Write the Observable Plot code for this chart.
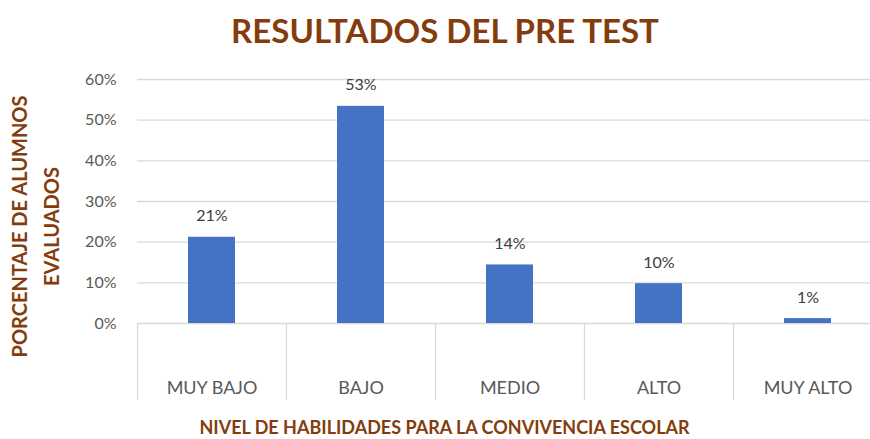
<!DOCTYPE html>
<html>
<head>
<meta charset="utf-8">
<script src="https://cdn.jsdelivr.net/npm/d3@7"></script>
<script src="https://cdn.jsdelivr.net/npm/@observablehq/plot@0.6"></script>
<style>
  html, body { margin: 0; padding: 0; background: #fff; overflow: hidden; }
  #wrap { width: 870px; height: 439px; overflow: hidden; position: relative; }
  #title { height: 60px; line-height: 60px; font-family: Lato, sans-serif; font-weight: 700;
           font-size: 33px; color: #843C0C; text-align: center; padding-left: 20px; box-sizing: border-box; }
  svg { display: block; }
</style>
</head>
<body>
<div id="wrap">
  <div id="title">RESULTADOS DEL PRE TEST</div>
  <div id="chart"></div>
</div>
<script>
const categories = ["MUY BAJO", "BAJO", "MEDIO", "ALTO", "MUY ALTO"];
const values = [0.212, 0.534, 0.144, 0.098, 0.012];
const yTicks = [0, 0.1, 0.2, 0.3, 0.4, 0.5, 0.6];
const yLabelLines = ["PORCENTAJE DE ALUMNOS", "EVALUADOS"];
const xLabel = "NIVEL DE HABILIDADES PARA LA CONVIVENCIA ESCOLAR";

const data = categories.map((c, i) => ({cat: c, value: values[i]}));
const fmt = d3.format(".0%");
const brown = "#843C0C";
const grid = "#d9d9d9";

const chart = Plot.plot({
  width: 870,
  height: 379,
  marginTop: 19,
  marginBottom: 116,
  marginLeft: 137,
  marginRight: 0,
  style: {fontFamily: "Lato, sans-serif", background: "#fff"},
  x: {domain: categories, range: [137, 882], paddingInner: 0.685, paddingOuter: 0.3425},
  y: {domain: [0, 0.6]},
  marks: [
    Plot.ruleY(yTicks, {stroke: grid, strokeWidth: 1.3}),
    Plot.ruleX(categories, {x: d => d, y1: 0, y2: 0, dx: -74.5, insetBottom: -77, stroke: grid, strokeWidth: 1.3}),
    Plot.barY(data, {x: "cat", y: "value", fill: "#4472C4"}),
    Plot.text(data, {x: "cat", y: "value", text: d => fmt(d.value), dy: -21, lineAnchor: "middle",
                     fill: "#404040", fontSize: 16}),
    Plot.axisY({ticks: yTicks, tickFormat: d3.format(".0%"), tickSize: 0, tickPadding: 21,
                fontSize: 16, fill: "#595959", label: null}),
    Plot.axisX({tickSize: 0, tickPadding: 58, fontSize: 18, fill: "#595959", label: null}),
    Plot.text([yLabelLines[0]], {frameAnchor: "left", text: d => d, rotate: -90, dx: -117, dy: 25,
                                 textAnchor: "middle", lineAnchor: "middle", fill: brown, fontWeight: 700, fontSize: 20}),
    Plot.text([yLabelLines[1]], {frameAnchor: "left", text: d => d, rotate: -90, dx: -85, dy: 25,
                                 textAnchor: "middle", lineAnchor: "middle", fill: brown, fontWeight: 700, fontSize: 20}),
    Plot.text([xLabel], {frameAnchor: "bottom", text: d => d, dx: -59.5, dy: 105,
                         lineAnchor: "middle", fill: brown, fontWeight: 700, fontSize: 18})
  ]
});
document.getElementById("chart").appendChild(chart);
</script>
</body>
</html>
